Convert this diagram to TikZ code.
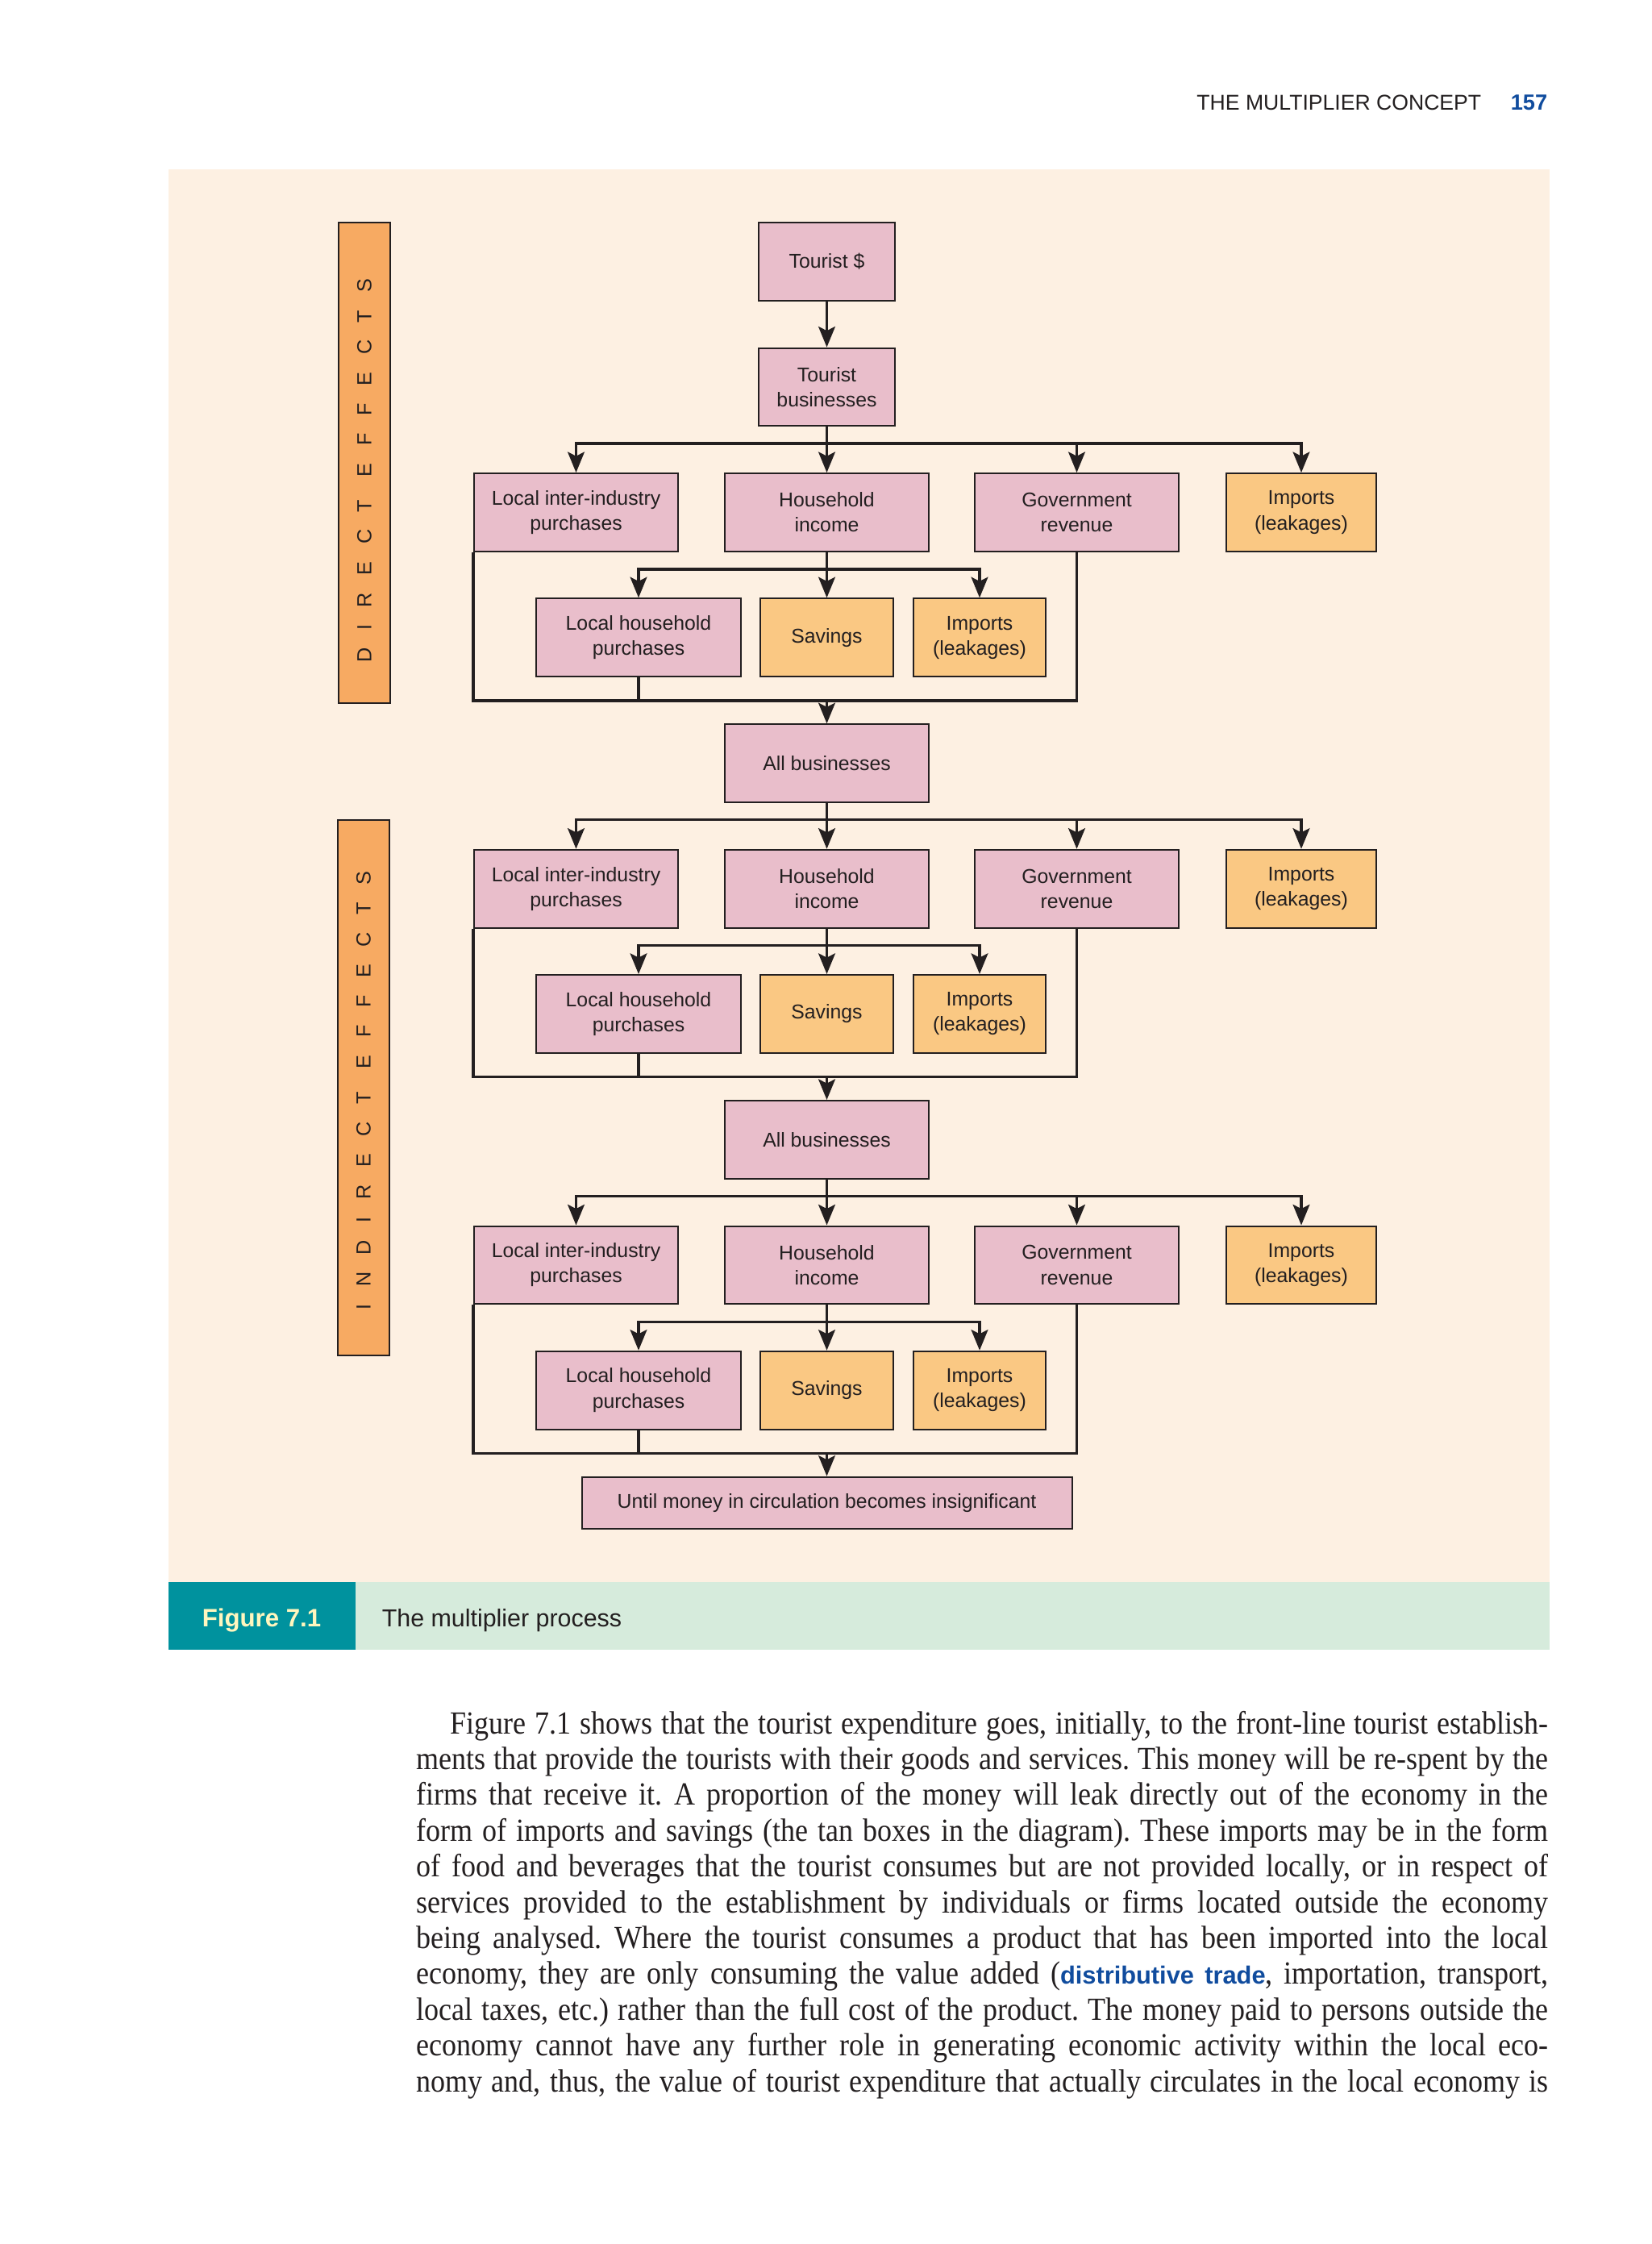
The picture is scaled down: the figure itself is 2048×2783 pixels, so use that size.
\documentclass[tikz,border=0pt]{standalone}
\usepackage{fontspec}
\setmainfont{Liberation Serif}[FakeStretch=0.9]
\newfontfamily\boxfont{Liberation Sans}
\newfontfamily\barfont{Liberation Sans}[LetterSpace=86]
\usetikzlibrary{arrows.meta}

\definecolor{peach}{RGB}{253,240,226}
\definecolor{pinkbox}{RGB}{233,190,203}
\definecolor{tanbox}{RGB}{250,200,131}
\definecolor{barorange}{RGB}{247,170,98}
\definecolor{capteal}{RGB}{0,146,158}
\definecolor{capgreen}{RGB}{214,235,220}
\definecolor{linkblue}{RGB}{16,76,158}
\definecolor{figyellow}{RGB}{255,246,190}
\definecolor{inkline}{RGB}{35,31,32}

\tikzset{
  box/.style={draw=inkline, line width=0.5pt, fill=pinkbox, minimum height=24.2pt, inner sep=0pt, align=center, text=inkline, font=\boxfont\fontsize{6.2}{7.8}\selectfont},
  leak/.style={box, fill=tanbox},
  bigbox/.style={minimum width=63.3pt},
  smallbox/.style={minimum width=41.2pt},
  bar/.style={draw=inkline, line width=0.5pt, fill=barorange, minimum width=16pt, inner sep=0pt},
  barlabel/.style={rotate=90, inner sep=0pt, text=inkline, font=\barfont\fontsize{6.3}{7}\selectfont},
  link/.style={draw=inkline, line width=0.85pt},
  flow/.style={link, -{Stealth[length=6.4pt, width=5.2pt, inset=1.3pt]}},
}

\begin{document}
\frenchspacing
\begin{tikzpicture}[x=0.25pt, y=-0.25pt]
    \useasboundingbox (0,0) rectangle (2048,2783);
    \fill[white] (0,0) rectangle (2048,2783);
    \fill[peach] (209,210) rectangle (1922,1962);
    \fill[capgreen] (209,1962) rectangle (1922,2046);
    \fill[capteal] (209,1962) rectangle (441,2046);

    % running head
    \node[anchor=base east, inner sep=0pt, text=inkline, font=\boxfont\fontsize{6.65}{8}\selectfont] (runhead) at (1838, 137) {THE MULTIPLIER CONCEPT};
    \node[anchor=base east, inner sep=0pt, text=linkblue, font=\boxfont\bfseries\fontsize{6.8}{8}\selectfont] (folio) at (1920, 137) {157};

    % side bars
    \node[bar, minimum height=149pt] (direct) at (452, 574) {};
    \node[barlabel] (directlabel) at (452, 584) {DIRECT EFFECTS};
    \node[bar, minimum height=166pt] (indirect) at (451, 1349) {};
    \node[barlabel] (indirectlabel) at (451, 1352.5) {INDIRECT EFFECTS};

    % direct effects
    \node[box, minimum width=42.1pt] (tourist) at (1025.5, 324.4) {Tourist \$};
    \node[box, minimum width=42.1pt] (tb) at (1025.5, 480) {Tourist\\businesses};
    \node[box, bigbox] (lii0) at (714.5, 635.5) {Local inter-industry\\purchases};
    \node[box, bigbox] (hi0) at (1025.5, 635.5) {Household\\income};
    \node[box, bigbox] (gov0) at (1335.5, 635.5) {Government\\revenue};
    \node[leak, minimum width=46.5pt] (imp0) at (1614, 635.5) {Imports\\(leakages)};
    \node[box, bigbox] (lhp0) at (792, 790.7) {Local household\\purchases};
    \node[leak, smallbox] (sav0) at (1025.5, 790.7) {Savings};
    \node[leak, smallbox] (iml0) at (1215, 790.7) {Imports\\(leakages)};
    \coordinate (split0) at (1025.5, 550);
    \coordinate (spend0) at (1025.5, 706);
    \coordinate (pool0) at (1025.5, 869);

    % indirect effects, first round
    \node[box, bigbox] (ab1) at (1025.5, 946.7) {All businesses};
    \node[box, bigbox] (lii1) at (714.5, 1102.2) {Local inter-industry\\purchases};
    \node[box, bigbox] (hi1) at (1025.5, 1102.2) {Household\\income};
    \node[box, bigbox] (gov1) at (1335.5, 1102.2) {Government\\revenue};
    \node[leak, minimum width=46.5pt] (imp1) at (1614, 1102.2) {Imports\\(leakages)};
    \node[box, bigbox] (lhp1) at (792, 1257.4) {Local household\\purchases};
    \node[leak, smallbox] (sav1) at (1025.5, 1257.4) {Savings};
    \node[leak, smallbox] (iml1) at (1215, 1257.4) {Imports\\(leakages)};
    \coordinate (split1) at (1025.5, 1016.7);
    \coordinate (spend1) at (1025.5, 1172.7);
    \coordinate (pool1) at (1025.5, 1335.7);

    % indirect effects, second round
    \node[box, bigbox] (ab2) at (1025.5, 1413.4) {All businesses};
    \node[box, bigbox] (lii2) at (714.5, 1568.9) {Local inter-industry\\purchases};
    \node[box, bigbox] (hi2) at (1025.5, 1568.9) {Household\\income};
    \node[box, bigbox] (gov2) at (1335.5, 1568.9) {Government\\revenue};
    \node[leak, minimum width=46.5pt] (imp2) at (1614, 1568.9) {Imports\\(leakages)};
    \node[box, bigbox] (lhp2) at (792, 1724.1) {Local household\\purchases};
    \node[leak, smallbox] (sav2) at (1025.5, 1724.1) {Savings};
    \node[leak, smallbox] (iml2) at (1215, 1724.1) {Imports\\(leakages)};
    \coordinate (split2) at (1025.5, 1483.4);
    \coordinate (spend2) at (1025.5, 1639.4);
    \coordinate (pool2) at (1025.5, 1802.4);
    \node[box, minimum width=152pt, minimum height=16pt] (until) at (1025.5, 1863.7) {Until money in circulation becomes insignificant};

    \draw[flow] (tourist) -- (tb);
    \draw[link] (tb) -- (split0);
    \draw[flow] (split0) -| (lii0);
    \draw[flow] (split0) -- (hi0);
    \draw[flow] (split0) -| (gov0);
    \draw[flow] (split0) -| (imp0);
    \draw[link] (hi0) -- (spend0);
    \draw[flow] (spend0) -| (lhp0);
    \draw[flow] (spend0) -- (sav0);
    \draw[flow] (spend0) -| (iml0);
    \draw[link] (lii0.south west) |- (pool0) -| (gov0.south);
    \draw[link] (lhp0) -- (lhp0 |- pool0);
    \draw[flow] (pool0) -- (ab1);

    \draw[link] (ab1) -- (split1);
    \draw[flow] (split1) -| (lii1);
    \draw[flow] (split1) -- (hi1);
    \draw[flow] (split1) -| (gov1);
    \draw[flow] (split1) -| (imp1);
    \draw[link] (hi1) -- (spend1);
    \draw[flow] (spend1) -| (lhp1);
    \draw[flow] (spend1) -- (sav1);
    \draw[flow] (spend1) -| (iml1);
    \draw[link] (lii1.south west) |- (pool1) -| (gov1.south);
    \draw[link] (lhp1) -- (lhp1 |- pool1);
    \draw[flow] (pool1) -- (ab2);

    \draw[link] (ab2) -- (split2);
    \draw[flow] (split2) -| (lii2);
    \draw[flow] (split2) -- (hi2);
    \draw[flow] (split2) -| (gov2);
    \draw[flow] (split2) -| (imp2);
    \draw[link] (hi2) -- (spend2);
    \draw[flow] (spend2) -| (lhp2);
    \draw[flow] (spend2) -- (sav2);
    \draw[flow] (spend2) -| (iml2);
    \draw[link] (lii2.south west) |- (pool2) -| (gov2.south);
    \draw[link] (lhp2) -- (lhp2 |- pool2);
    \draw[flow] (pool2) -- (until);

    % caption
    \node[anchor=base west, inner sep=0pt, text=figyellow, font=\boxfont\bfseries\fontsize{7.8}{9}\selectfont] (fignum) at (250, 2017) {Figure 7.1};
    \node[anchor=base west, inner sep=0pt, text=inkline, font=\boxfont\fontsize{7.6}{9}\selectfont] (figtitle) at (473, 2017) {The multiplier process};

    % body text
    \node[anchor=base west, inner sep=0pt, text=inkline, font=\fontsize{10}{11.1}\selectfont] (body) at (515.5, 2594) {\vbox{\baselineskip=11.1pt
      \hbox to 351.1pt{\hskip 10.6pt Figure 7.1 shows that the tourist expenditure goes, initially, to the front-line tourist establish-}
      \hbox to 351.1pt{ments that provide the tourists with their goods and services. This money will be re-spent by the}
      \hbox to 351.1pt{firms that receive it. A proportion of the money will leak directly out of the economy in the}
      \hbox to 351.1pt{form of imports and savings (the tan boxes in the diagram). These imports may be in the form}
      \hbox to 351.1pt{of food and beverages that the tourist consumes but are not provided locally, or in respect of}
      \hbox to 351.1pt{services provided to the establishment by individuals or firms located outside the economy}
      \hbox to 351.1pt{being analysed. Where the tourist consumes a product that has been imported into the local}
      \hbox to 351.1pt{economy, they are only consuming the value added ({\color{linkblue}\boxfont\bfseries\fontsize{7.7}{11.1}\selectfont distributive trade}, importation, transport,}
      \hbox to 351.1pt{local taxes, etc.) rather than the full cost of the product. The money paid to persons outside the}
      \hbox to 351.1pt{economy cannot have any further role in generating economic activity within the local eco-}
      \hbox to 351.1pt{nomy and, thus, the value of tourist expenditure that actually circulates in the local economy is}}};
\end{tikzpicture}
\end{document}
